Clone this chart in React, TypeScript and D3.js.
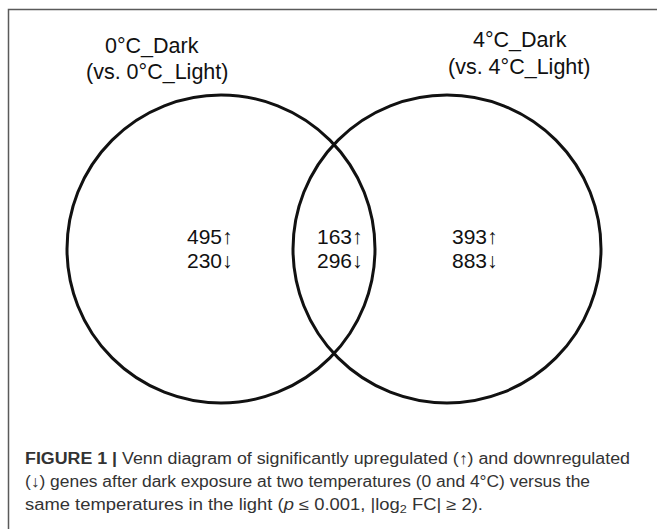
import { useEffect, useRef } from 'react'
import * as d3 from 'd3'

// sets and region counts
const setNames = ['0°C_Dark', '4°C_Dark']
const setSubtitles = ['(vs. 0°C_Light)', '(vs. 4°C_Light)']
const regions = ['only0', 'both', 'only4']
const upCounts = [495, 163, 393]
const downCounts = [230, 296, 883]

const W = 657
const H = 529

export default function App() {
    const ref = useRef<SVGSVGElement>(null)

    useEffect(() => {
        draw()
    })

    const draw = () => {
        const svg = d3.select(ref.current)
        svg.selectAll('*').remove()

        // frame (top + left edge)
        svg.append('path')
            .attr('d', `M8.5,${H} L8.5,9.5 L${W},9.5`)
            .attr('fill', 'none')
            .attr('stroke', '#5a5a5a')
            .attr('stroke-width', 1.5)

        // venn layout: two circles in a shared unit space
        const x = d3.scaleLinear().domain([0, 1]).range([221, 447])
        const r = 154
        const cy = 249

        svg.selectAll('circle.set')
            .data(setNames)
            .enter()
            .append('circle')
            .attr('class', 'set')
            .attr('cx', (d, i) => x(i))
            .attr('cy', cy)
            .attr('r', r)
            .attr('fill', 'none')
            .attr('stroke', '#111')
            .attr('stroke-width', 3)

        // set titles
        const titleX = [[105, 86], [473, 448]]
        const titleY = [[53, 79], [47, 74]]
        setNames.forEach((name, i) => {
            const lines = [name, setSubtitles[i]]
            lines.forEach((t, j) => {
                svg.append('text')
                    .attr('x', titleX[i][j])
                    .attr('y', titleY[i][j])
                    .attr('font-family', 'Liberation Sans, Arial, sans-serif')
                    .attr('font-size', 21.5)
                    .attr('fill', '#111')
                    .text(t)
            })
        })

        // region counts
        const regionX = d3.scalePoint().domain(regions).range([187, 452])
        const regionStart: Record<string, number> = { only0: 187, both: 317, only4: 452 }
        regions.forEach((reg, i) => {
            const g = svg.append('text')
                .attr('font-family', 'Liberation Sans, Arial, sans-serif')
                .attr('font-size', 21)
                .attr('fill', '#111')
            const x0 = regionStart[reg] ?? regionX(reg)
            g.append('tspan').attr('x', x0).attr('y', 244).text(`${upCounts[i]}↑`)
            g.append('tspan').attr('x', x0).attr('y', 268).text(`${downCounts[i]}↓`)
        })

        // caption
        const cap = svg.append('g')
            .attr('font-family', 'Liberation Sans, Arial, sans-serif')
            .attr('font-size', 16)
            .attr('fill', '#333')

        const l1 = cap.append('text').attr('x', 25).attr('y', 464)
            .attr('textLength', 605).attr('lengthAdjust', 'spacingAndGlyphs')
        l1.append('tspan').attr('font-weight', 'bold').text('FIGURE 1 |')
        l1.append('tspan').text(' Venn diagram of significantly upregulated (↑) and downregulated')

        cap.append('text').attr('x', 25).attr('y', 487)
            .attr('textLength', 565).attr('lengthAdjust', 'spacingAndGlyphs')
            .text('(↓) genes after dark exposure at two temperatures (0 and 4°C) versus the')

        const l3 = cap.append('text').attr('x', 25).attr('y', 510)
            .attr('textLength', 458).attr('lengthAdjust', 'spacingAndGlyphs')
        l3.append('tspan').text('same temperatures in the light (')
        l3.append('tspan').attr('font-style', 'italic').text('p')
        l3.append('tspan').text(' ≤ 0.001, |log')
        l3.append('tspan').attr('font-size', 11).attr('dy', 3).text('2')
        l3.append('tspan').attr('dy', -3).text(' FC| ≥ 2).')
    }

    return (
        <svg ref={ref} width={W} height={H}
            style={{ position: 'absolute', left: 0, top: 0, background: '#fff' }} />
    )
}
